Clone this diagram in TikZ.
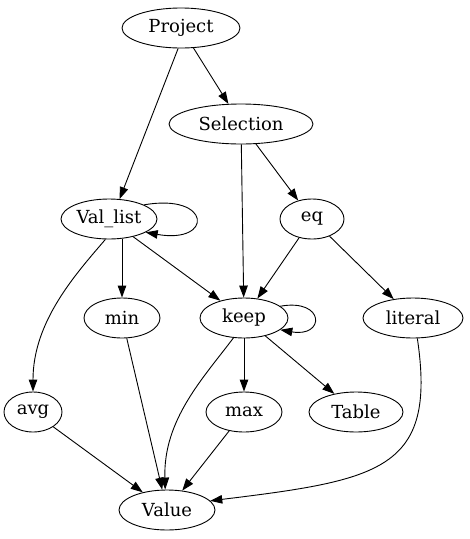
\documentclass[tikz,border=0pt]{standalone}
\usepackage{fontspec}
\setmainfont{DejaVu Serif}
\usetikzlibrary{shapes.geometric, arrows.meta}

\begin{document}
\begin{tikzpicture}[x=1pt, y=-1pt,
  gnode/.style={ellipse, draw, line width=0.9pt, minimum height=40pt, inner sep=0pt, font=\rmfamily\fontsize{18}{20}\selectfont},
  garrow/.style={-{Triangle[length=12pt, width=8.5pt]}, line width=0.9pt}]
  \useasboundingbox (0,0) rectangle (470,539);

  % nodes
  \node[gnode, minimum width=118pt] (project) at (181, 28) {Project};
  \node[gnode, minimum width=144pt] (selection) at (241, 124) {Selection};
  \node[gnode, minimum width=96pt] (vallist) at (109, 219) {Val\_list};
  \node[gnode, minimum width=64pt] (eq) at (312, 219) {eq};
  \node[gnode, minimum width=76pt] (min) at (122, 318) {min};
  \node[gnode, minimum width=88pt] (keep) at (244, 318) {keep};
  \node[gnode, minimum width=100pt] (literal) at (413, 318) {literal};
  \node[gnode, minimum width=58pt] (avg) at (33, 412) {avg};
  \node[gnode, minimum width=76pt] (max) at (244, 412) {max};
  \node[gnode, minimum width=94pt] (table) at (356, 412) {Table};
  \node[gnode, minimum width=96pt] (value) at (167, 510) {Value};

  % edges
  \draw[garrow] (project.-98) -- (vallist.62);
  \draw[garrow] (project) -- (selection);
  \draw[garrow] (selection) -- (eq);
  \draw[garrow] (selection) -- (keep);
  \draw[garrow] (vallist.22) .. controls +(68,-12) and +(68,12) .. (vallist.-20);
  \draw[garrow] (vallist.south -| min.north) -- (min);
  \draw[garrow] (vallist) -- (keep);
  \draw[garrow] (vallist.-100) .. controls +(-30,35) and +(0,-70) .. (avg.north);
  \draw[garrow] (eq) -- (keep);
  \draw[garrow] (eq) -- (literal);
  \draw[garrow] (keep.18) .. controls +(45,-8) and +(45,8) .. (keep.-18);
  \draw[garrow] (keep) -- (max);
  \draw[garrow] (keep) -- (table);
  \draw[garrow] (keep.-118) .. controls +(-30,40) and +(-2,-70) .. (value.95);
  \draw[garrow] (min) -- (value);
  \draw[garrow] (avg) -- (value);
  \draw[garrow] (max) -- (value);
  \draw[garrow] (literal.-78) .. controls (437,470) and (380,480) .. (value.12);
\end{tikzpicture}
\end{document}
